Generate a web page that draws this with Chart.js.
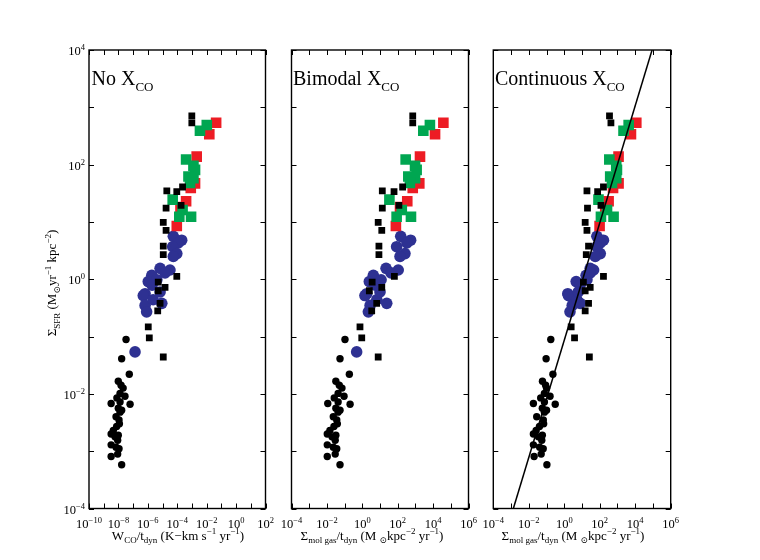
<!DOCTYPE html>
<html>
<head>
<meta charset="utf-8">
<script src="https://cdn.jsdelivr.net/npm/chart.js@4.4.1/dist/chart.umd.min.js"></script>
<style>
    body { margin: 0; background: #fff; }
    .wrap { position: relative; width: 760px; height: 560px; }
    .wrap canvas { position: absolute; left: 0; top: 0; }
</style>
</head>
<body>
<div class="wrap">
    <canvas id="noXco" width="760" height="560"></canvas>
    <canvas id="bimodal" width="760" height="560"></canvas>
    <canvas id="continuous" width="760" height="560"></canvas>
</div>
<script>
// --- data (same objects in every panel, x changes with the X_CO treatment) ---

// normal galaxies, low SFR (black circles)
const circY = [8.9e-2, 4.1e-2, 2.2e-2, 1.66e-2, 1.26e-2, 1.02e-2, 9.1e-3, 6.8e-3, 6.6e-3, 7.2e-3,
    5.6e-3, 4.0e-3, 3.5e-3, 2.7e-3, 2.3e-3, 2.0e-3, 1.9e-3, 1.78e-3, 1.55e-3, 1.29e-3,
    8.1e-4, 8.9e-4, 5.8e-4, 1.41e-2, 8.5e-3, 4.8e-3, 3.0e-3, 1.17e-3, 1.10e-3, 5.2e-3];
const circXNone = [3.3e-8, 1.66e-8, 5.5e-8, 9.8e-9, 2.1e-8, 1.29e-8, 2.8e-8, 3.2e-9, 6.2e-8, 1.29e-8,
    9.8e-9, 6.9e-9, 1.10e-8, 7.6e-9, 4.5e-9, 3.2e-9, 9.8e-9, 5.9e-9, 8.9e-9, 3.2e-9,
    3.2e-9, 8.9e-9, 1.66e-8, 1.51e-8, 7.9e-9, 1.29e-8, 1.17e-8, 6.9e-9, 1.10e-8, 1.66e-8];
const circXBimodal = [0.105, 5.5e-2, 0.186, 3.2e-2, 7.1e-2, 4.3e-2, 9.3e-2, 1.12e-2, 0.204, 4.3e-2,
    3.2e-2, 2.3e-2, 3.6e-2, 2.5e-2, 1.48e-2, 1.05e-2, 3.2e-2, 1.95e-2, 2.95e-2, 1.05e-2,
    1.05e-2, 2.95e-2, 5.5e-2, 5.0e-2, 2.6e-2, 4.3e-2, 3.9e-2, 2.3e-2, 3.6e-2, 5.5e-2];
const circXCont = [0.174, 9.5e-2, 0.229, 5.9e-2, 0.1, 7.6e-2, 0.158, 1.82e-2, 0.309, 7.6e-2,
    5.8e-2, 2.8e-2, 6.6e-2, 4.0e-2, 2.6e-2, 1.82e-2, 5.8e-2, 3.5e-2, 5.4e-2, 1.82e-2,
    2.0e-2, 5.0e-2, 0.105, 8.9e-2, 4.7e-2, 7.6e-2, 6.9e-2, 4.1e-2, 6.5e-2, 0.1];

// blue circles
const blueY = [5.6, 4.8, 4.3, 3.7, 2.8, 2.5, 1.45, 1.55, 1.17, 0.91, 0.98, 0.56, 0.52, 0.35, 0.27,
    0.44, 0.38, 0.054, 0.79, 1.29, 0.60];
const blueXNone = [5.4e-5, 2.0e-4, 1.17e-4, 4.9e-5, 9.3e-5, 5.4e-5, 3.2e-5, 6.8e-6, 1.86e-6, 1.07e-6,
    4.1e-6, 6.5e-7, 4.9e-7, 6.5e-7, 8.3e-7, 2.3e-6, 8.9e-6, 1.35e-7, 1.95e-6, 1.48e-5, 6.8e-6];
const blueXBimodal = [148, 537, 331, 87, 257, 135, 107, 22, 4.2, 2.5, 11.5, 1.78, 1.41, 2.75, 2.2,
    6.6, 24, 0.48, 5.5, 42, 10];
const blueXCont = [69, 162, 107, 69, 107, 56, 45, 29, 17, 4.7, 19, 1.58, 1.74, 2.8, 2.1,
    5.1, 7.9, null, 7.9, 29, 6.2];

// black squares
const sqY = [708, 537, 40.7, 34.7, 33.9, 19.5, 17.4, 9.8, 7.1, 3.8, 2.7, 1.12, 0.89, 0.72, 0.63,
    0.38, 0.28, 0.148, 0.095, 0.044];
const sqXNone = [9.8e-4, 9.8e-4, 2.3e-4, 1.95e-5, 9.3e-5, 1.82e-4, 1.74e-5, 1.12e-5, 1.74e-5, 1.12e-5,
    1.12e-5, 9.3e-5, 5.1e-6, 1.48e-5, 5.1e-6, 6.8e-6, 4.7e-6, 1.07e-6, 1.26e-6, 1.12e-5];
const sqXBimodal = [708, 708, 190, 13.5, 62, 117, 13.5, 7.9, 12.6, 8.7, 8.7, 65, 3.6, 12.6, 2.5,
    6.5, 3.4, 0.74, 0.93, 7.9];
const sqXCont = [355, 427, 162, 19, 76, 117, 20.4, 15.1, 19, 23.4, 17.4, 162, 12, 29, 15.1,
    23.4, 15.1, 2.45, 3.8, 26];

// green squares
const greenY = [490, 389, 123, 95, 81, 62, 58, 48, 24.5, 16.2, 12.3, 12.3];
const greenXNone = [1.02e-2, 3.5e-3, 4.0e-4, 1.26e-3, 1.62e-3, 5.8e-4, 1.26e-3, 7.4e-4, 4.9e-5, 2.3e-4, 1.38e-4, 8.7e-4];
const greenXBimodal = [6600, 2800, 282, 955, 1175, 398, 955, 490, 34, 170, 87, 562];
const greenXCont = [4270, 2190, 347, 851, 933, 389, 851, 490, 85, 257, 117, 603];

// red squares
const redY = [537, 339, 138, 47, 39, 23, 18.2, 8.5];
const redXNone = [4.4e-2, 1.51e-2, 2.1e-3, 1.62e-3, 8.3e-4, 4.0e-4, 1.66e-4, 9.3e-5];
const redXBimodal = [38000, 12900, 1820, 1660, 708, 347, 135, 79];
const redXCont = [11500, 5750, 1150, 1150, 562, 316, 204, 98];

// fitted relation, continuous panel
const fitX = [1.35e-3, 8.9e4];
const fitY = [1e-4, 1e4];

// axis ticks
const yTicks = [1e-4, 1e-3, 1e-2, 1e-1, 1, 1e1, 1e2, 1e3, 1e4];
const yLabels = [1e-4, 1e-2, 1, 1e2, 1e4];
const xTicksNone = [1e-10, 1e-9, 1e-8, 1e-7, 1e-6, 1e-5, 1e-4, 1e-3, 1e-2, 1e-1, 1, 1e1, 1e2];
const xLabelsNone = [1e-10, 1e-8, 1e-6, 1e-4, 1e-2, 1, 1e2];
const xTicksGas = [1e-4, 1e-3, 1e-2, 1e-1, 1, 1e1, 1e2, 1e3, 1e4, 1e5, 1e6];
const xLabelsGas = [1e-4, 1e-2, 1, 1e2, 1e4, 1e6];

const SERIF = '"Liberation Serif", "DejaVu Serif", serif';
const BLUE = '#2e3192';
const GREEN = '#00a651';
const RED = '#ed1c24';

const pts = (xs, ys) => xs.map((x, i) => (x === null ? null : { x: x, y: ys[i] })).filter(p => p);

// draws text made of normal / sub / sup pieces
function drawRich(ctx, parts, x, y, align, size, small) {
    let w = 0;
    parts.forEach(([t, k]) => {
        ctx.font = (k ? small : size) + 'px ' + SERIF;
        w += ctx.measureText(t).width;
    });
    let cx = align === 'center' ? x - w / 2 : (align === 'right' ? x - w : x);
    parts.forEach(([t, k]) => {
        ctx.font = (k ? small : size) + 'px ' + SERIF;
        const dy = k === 'sub' ? size * 0.28 : (k === 'sup' ? -size * 0.4 : 0);
        ctx.fillText(t, cx, y + dy);
        cx += ctx.measureText(t).width;
    });
}

const expText = v => String(Math.round(Math.log10(v))).replace('-', '\u2212');

const gasTitle = [['\u03a3', 0], ['mol gas', 'sub'], ['/t', 0], ['dyn', 'sub'], [' (M ', 0], ['\u2299', 'sub'],
    ['kpc', 0], ['\u22122', 'sup'], [' yr', 0], ['\u22121', 'sup'], [')', 0]];

const panels = [
    {
        id: 'noXco', left: 89, right: 265.5, xMin: 1e-10, xMax: 1e2,
        xTicks: xTicksNone, xLabels: xLabelsNone, showY: true,
        title: 'No X', titleX: 91.5,
        xTitle: [['W', 0], ['CO', 'sub'], ['/t', 0], ['dyn', 'sub'], [' (K\u2212km s', 0], ['\u22121', 'sup'],
            [' yr', 0], ['\u22121', 'sup'], [')', 0]],
        xTitleCenter: 178,
        circ: circXNone, blue: blueXNone, sq: sqXNone, green: greenXNone, red: redXNone
    },
    {
        id: 'bimodal', left: 291.5, right: 468.5, xMin: 1e-4, xMax: 1e6,
        xTicks: xTicksGas, xLabels: xLabelsGas, showY: false,
        title: 'Bimodal X', titleX: 293,
        xTitle: gasTitle, xTitleCenter: 372,
        circ: circXBimodal, blue: blueXBimodal, sq: sqXBimodal, green: greenXBimodal, red: redXBimodal
    },
    {
        id: 'continuous', left: 493.3, right: 670.7, xMin: 1e-4, xMax: 1e6,
        xTicks: xTicksGas, xLabels: xLabelsGas, showY: false, fit: true,
        title: 'Continuous X', titleX: 495,
        xTitle: gasTitle, xTitleCenter: 573,
        circ: circXCont, blue: blueXCont, sq: sqXCont, green: greenXCont, red: redXCont
    }
];

function framePlugin(p) {
    return {
        id: 'frame',
        afterDatasetsDraw(chart) {
            const { ctx, chartArea: a } = chart;
            const x = chart.scales.x, y = chart.scales.y;
            ctx.save();
            ctx.strokeStyle = '#000';
            ctx.fillStyle = '#000';
            ctx.lineWidth = 1.4;
            ctx.strokeRect(a.left, a.top, a.right - a.left, a.bottom - a.top);

            // inward ticks on all four sides
            ctx.lineWidth = 1;
            ctx.beginPath();
            p.xTicks.forEach(v => {
                const px = Math.round(x.getPixelForValue(v)) + 0.5;
                ctx.moveTo(px, a.bottom); ctx.lineTo(px, a.bottom - 5);
                ctx.moveTo(px, a.top); ctx.lineTo(px, a.top + 5);
            });
            yTicks.forEach(v => {
                const py = Math.round(y.getPixelForValue(v)) + 0.5;
                ctx.moveTo(a.left, py); ctx.lineTo(a.left + 5, py);
                ctx.moveTo(a.right, py); ctx.lineTo(a.right - 5, py);
            });
            ctx.stroke();

            ctx.textBaseline = 'alphabetic';
            p.xLabels.forEach(v => {
                drawRich(ctx, [['10', 0], [expText(v), 'sup']], x.getPixelForValue(v), a.bottom + 19, 'center', 12.5, 8.5);
            });
            if (p.showY) {
                yLabels.forEach(v => {
                    drawRich(ctx, [['10', 0], [expText(v), 'sup']], a.left - 4, y.getPixelForValue(v) + 5, 'right', 12.5, 8.5);
                });
                ctx.save();
                ctx.translate(56, 283);
                ctx.rotate(-Math.PI / 2);
                drawRich(ctx, [['\u03a3', 0], ['SFR', 'sub'], [' (M', 0], ['\u2299', 'sub'], ['yr', 0], ['\u22121', 'sup'],
                    [' kpc', 0], ['\u22122', 'sup'], [')', 0]], 0, 0, 'center', 13, 9);
                ctx.restore();
            }
            drawRich(ctx, p.xTitle, p.xTitleCenter, a.bottom + 31, 'center', 13, 9);
            drawRich(ctx, [[p.title, 0], ['CO', 'sub']], p.titleX, 85, 'left', 20, 13);
            ctx.restore();
        }
    };
}

panels.forEach(p => {
    const datasets = [];
    if (p.fit) {
        datasets.push({
            label: 'fit', data: pts(fitX, fitY), showLine: true,
            borderColor: '#000', borderWidth: 1.5, pointRadius: 0
        });
    }
    datasets.push(
        { label: 'black squares', data: pts(p.sq, sqY), pointStyle: 'rect', pointRadius: 4.8,
          backgroundColor: '#000', borderWidth: 0 },
        { label: 'green', data: pts(p.green, greenY), pointStyle: 'rect', pointRadius: 7.5,
          backgroundColor: GREEN, borderWidth: 0 },
        { label: 'red', data: pts(p.red, redY), pointStyle: 'rect', pointRadius: 7.5,
          backgroundColor: RED, borderWidth: 0 },
        { label: 'blue', data: pts(p.blue, blueY), pointStyle: 'circle', pointRadius: 5.8,
          backgroundColor: BLUE, borderWidth: 0 },
        { label: 'black circles', data: pts(p.circ, circY), pointStyle: 'circle', pointRadius: 3.7,
          backgroundColor: '#000', borderWidth: 0 }
    );

    new Chart(document.getElementById(p.id), {
        type: 'scatter',
        data: { datasets: datasets },
        options: {
            responsive: false,
            animation: false,
            devicePixelRatio: 1,
            layout: { padding: { left: p.left, right: 760 - p.right, top: 50, bottom: 51.5 } },
            scales: {
                x: { type: 'logarithmic', min: p.xMin, max: p.xMax, display: false },
                y: { type: 'logarithmic', min: 1e-4, max: 1e4, display: false }
            },
            plugins: { legend: { display: false }, tooltip: { enabled: false } }
        },
        plugins: [framePlugin(p)]
    });
});
</script>
</body>
</html>
